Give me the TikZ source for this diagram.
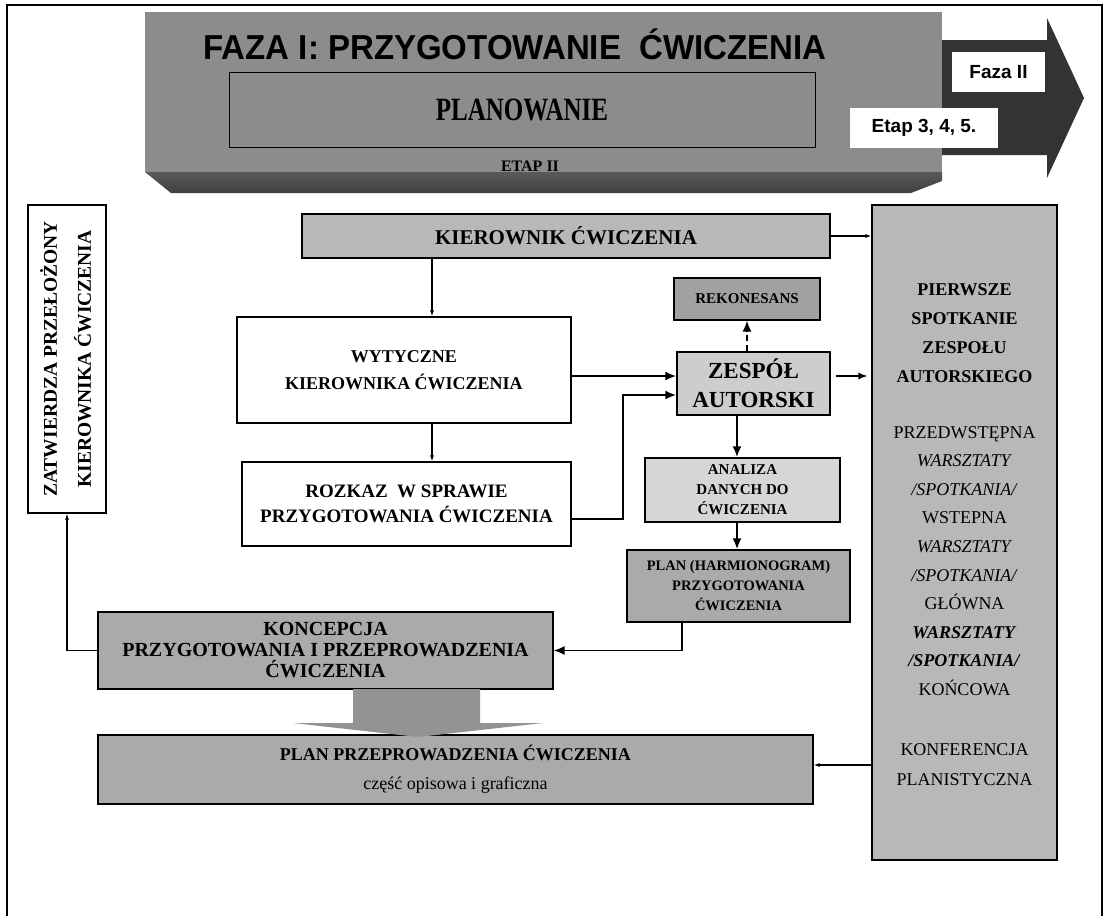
\documentclass[tikz,border=0pt]{standalone}
\usepackage{fontspec}
\setmainfont{Liberation Serif}
\newfontfamily\arialfont{Liberation Sans}
\usetikzlibrary{arrows.meta}

\definecolor{bannergray}{gray}{0.55}
\definecolor{bevelgray}{gray}{0.35}
\definecolor{arrowdark}{gray}{0.2}
\definecolor{boxgray}{gray}{0.72}
\definecolor{midgray}{gray}{0.63}
\definecolor{palegray}{gray}{0.84}
\newcommand{\fsz}[2]{\fontsize{#1}{#2}\selectfont}

\tikzset{
  box/.style = {draw, line width=1.2pt, inner sep=0pt, align=center},
  whitebox/.style = {box, fill=white},
  graybox/.style = {box, fill=boxgray},
  tagbox/.style = {fill=white, inner sep=0pt, font=\arialfont\bfseries\fsz{19}{19}},
  thinarrow/.style = {line width=1.1pt, -{Latex[length=6pt, width=4pt]}},
  medarrow/.style = {line width=1.3pt, -{Latex[length=9pt, width=7pt]}},
  thickarrow/.style = {line width=2.4pt, -{Latex[length=11pt, width=9pt]}},
}

\begin{document}
\begin{tikzpicture}[x=1pt, y=-1pt]
\useasboundingbox (0,0) rectangle (1106,916);
% page frame
\draw[line width=1.2pt] (7,916) -- (7,5) -- (1102,5) -- (1102,916);

% phase banner
\fill[arrowdark] (942,40) -- (1047,40) -- (1047,18) -- (1084,98) -- (1047,178)
  -- (1047,155) -- (942,155) -- cycle;
\node[fill=bannergray, inner sep=0pt, minimum width=797, minimum height=160] (faza) at (543.5,92) {};
\shade[top color=bevelgray, bottom color=black!75] (145,172) -- (942,172) -- (942,181)
  -- (911,193) -- (171,193) -- cycle;
\node[font=\arialfont\bfseries\fsz{33}{33}] (title) at (515,44) {\scalebox{1}[1.05]{FAZA I: PRZYGOTOWANIE~ ĆWICZENIA}};
\node[draw, line width=0.8pt, inner sep=0pt, minimum width=586, minimum height=75,
  font=\bfseries\fsz{25}{25}] (plan) at (522,109.5) {\scalebox{1}[1.3]{PLANOWANIE}};
\node[font=\bfseries\fsz{16}{16}] (etap) at (530,166) {ETAP II};
\node[tagbox, minimum width=93, minimum height=40] (faza2) at (998.5,72) {Faza II};
\node[tagbox, minimum width=148, minimum height=40] (etapy) at (924,128) {Etap 3, 4, 5.};

% boxes
\node[whitebox, minimum width=78, minimum height=308, font=\bfseries\fsz{19.5}{34}] (zatw) at (67,359)
  {\rotatebox{90}{\begin{tabular}{c}ZATWIERDZA PRZEŁOŻONY\\KIEROWNIKA ĆWICZENIA\end{tabular}}};
\node[graybox, minimum width=528, minimum height=44, font=\bfseries\fsz{21}{21}] (kier) at (566,236)
  {KIEROWNIK ĆWICZENIA};
\node[whitebox, minimum width=334, minimum height=106, font=\bfseries\fsz{18}{27}] (wyt) at (404,370)
  {WYTYCZNE\\KIEROWNIKA ĆWICZENIA};
\node[whitebox, minimum width=329, minimum height=84, font=\bfseries\fsz{19}{25}] (rozk) at (406.5,504)
  {ROZKAZ~ W SPRAWIE\\PRZYGOTOWANIA ĆWICZENIA};
\node[box, fill=midgray, minimum width=146, minimum height=42, font=\bfseries\fsz{15}{15}] (rekon) at (747,299)
  {REKONESANS};
\node[graybox, fill=boxgray!70!white, minimum width=153, minimum height=63, font=\bfseries\fsz{23}{29}] (zesp)
  at (753.5,383.5) {ZESPÓŁ\\AUTORSKI};
\node[box, fill=palegray, minimum width=195, minimum height=64, font=\bfseries\fsz{15}{20}] (anal)
  at (742.5,490) {ANALIZA\\DANYCH DO\\ĆWICZENIA};
\node[box, fill=midgray!90!white, minimum width=223, minimum height=72, font=\bfseries\fsz{14.5}{20}] (planh)
  at (738.5,586) {PLAN (HARMIONOGRAM)\\PRZYGOTOWANIA\\ĆWICZENIA};
\node[box, fill=midgray!90!white, minimum width=455, minimum height=77, font=\bfseries\fsz{20}{21}] (konc)
  at (325.5,650.5) {KONCEPCJA\\PRZYGOTOWANIA I PRZEPROWADZENIA\\ĆWICZENIA};
\node[box, fill=midgray!90!white, minimum width=715, minimum height=69, font=\fsz{18}{29}] (planp)
  at (455.5,769.5) {\textbf{PLAN PRZEPROWADZENIA ĆWICZENIA}\\część opisowa i graficzna};

% meetings column
\node[graybox, minimum width=185, minimum height=655] (spot) at (964.5,532.5) {};
\node[align=center, font=\bfseries\fsz{18}{29}] (spot1) at (964.5,333) {PIERWSZE\\SPOTKANIE\\ZESPOŁU\\AUTORSKIEGO};
\node[align=center, font=\fsz{18}{28.6}] (spot2) at (964.5,561)
  {PRZEDWSTĘPNA\\\textit{WARSZTATY}\\\textit{/SPOTKANIA/}\\WSTEPNA\\\textit{WARSZTATY}\\\textit{/SPOTKANIA/}\\GŁÓWNA\\\textbf{\textit{WARSZTATY}}\\\textbf{\textit{/SPOTKANIA/}}\\KOŃCOWA};
\node[align=center, font=\fsz{18}{30}] (spot3) at (964.5,765) {KONFERENCJA\\PLANISTYCZNA};

% block arrow
\fill[gray!85] (353,689) -- (480,689) -- (480,723) -- (543,723) -- (418,737) -- (293,723)
  -- (353,723) -- cycle;

% connectors
\draw[thinarrow] (kier.east) -- (kier.east -| spot.west);
\draw[thinarrow] (kier.south -| 432,0) -- (wyt.north -| 432,0);
\draw[thinarrow] (wyt.south -| 432,0) -- (rozk.north -| 432,0);
\draw[thickarrow] (wyt.east |- 0,376) -- (zesp.west |- 0,376);
\draw[thickarrow] (rozk.east |- 0,519) -- (623,519) -- (623,395) -- (zesp.west |- 0,395);
\draw[thickarrow, line width=1.8pt, dash pattern=on 6pt off 4pt] (rekon.south |- zesp.north) -- (rekon.south);
\draw[medarrow, shorten <=5pt, shorten >=4pt] (zesp.east |- 0,376) -- (spot.west |- 0,376);
\draw[thickarrow] (zesp.south -| 737,0) -- (anal.north -| 737,0);
\draw[thickarrow] (anal.south -| 737,0) -- (planh.north -| 737,0);
\draw[thickarrow, line width=1.6pt] (planh.south -| 682,0) |- (konc.east);
\draw[thinarrow] (konc.west) -| (zatw.south);
\draw[thinarrow] (spot.west |- 0,765) -- (planp.east |- 0,765);
\end{tikzpicture}
\end{document}
